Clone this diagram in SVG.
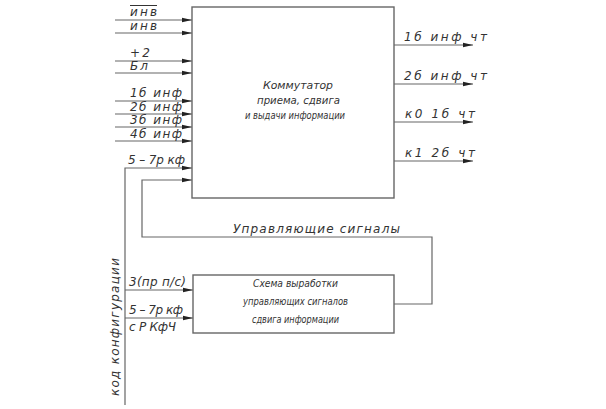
<svg xmlns="http://www.w3.org/2000/svg" width="606" height="409" viewBox="0 0 606 409">
<defs>
<marker id="ah" viewBox="0 0 10 6" refX="10" refY="3" markerWidth="10" markerHeight="6" markerUnits="userSpaceOnUse" orient="auto">
<path d="M0,0.8 L10,3 L0,5.2 Z" fill="#222"/>
</marker>
<style>
.ln{stroke:#666;stroke-width:1.2;fill:none}
.ar{stroke:#666;stroke-width:1.2;fill:none;marker-end:url(#ah)}
.bx{stroke:#666;stroke-width:1.4;fill:#fff}
.t{font-family:"DejaVu Sans",sans-serif;font-style:italic;font-weight:200;font-size:12px;fill:#333}
.s{font-family:"DejaVu Sans",sans-serif;font-style:italic;font-weight:200;font-size:10px;fill:#333}
</style>
</defs>
<rect width="606" height="409" fill="#fff"/>
<g id="connectors">
<line class="ar" x1="115" y1="20" x2="192" y2="20"/>
<line class="ar" x1="115" y1="33" x2="192" y2="33"/>
<line class="ar" x1="115" y1="61" x2="192" y2="61"/>
<line class="ar" x1="115" y1="73" x2="192" y2="73"/>
<line class="ar" x1="115" y1="101" x2="192" y2="101"/>
<line class="ar" x1="115" y1="114" x2="192" y2="114"/>
<line class="ar" x1="115" y1="127" x2="192" y2="127"/>
<line class="ar" x1="115" y1="141" x2="192" y2="141"/>
<polyline class="ar" points="125,405 125,168 192,168"/>
<polyline class="ar" points="394,304 432,304 432,237 142,237 142,180 192,180"/>
<line class="ar" x1="125" y1="290" x2="193" y2="290"/>
<line class="ar" x1="125" y1="318" x2="193" y2="318"/>
<line class="ar" x1="394" y1="45" x2="473" y2="45"/>
<line class="ar" x1="394" y1="84" x2="473" y2="84"/>
<line class="ar" x1="394" y1="122" x2="473" y2="122"/>
<line class="ar" x1="394" y1="161" x2="473" y2="161"/>
</g>
<g id="kommutator">
<rect class="bx" x="192" y="7" width="202" height="191"/>
<text class="s" x="263" y="89" textLength="70" lengthAdjust="spacingAndGlyphs">Коммутатор</text>
<text class="s" x="257" y="104" textLength="83" lengthAdjust="spacingAndGlyphs">приема, сдвига</text>
<text class="s" x="245" y="119" textLength="100" lengthAdjust="spacingAndGlyphs">и выдачи информации</text>
</g>
<g id="skhema">
<rect class="bx" x="193" y="275" width="201" height="58"/>
<text class="s" x="253" y="287" textLength="85" lengthAdjust="spacingAndGlyphs">Схема выработки</text>
<text class="s" x="243" y="305" textLength="105" lengthAdjust="spacingAndGlyphs">управляющих сигналов</text>
<text class="s" x="252" y="323" textLength="87" lengthAdjust="spacingAndGlyphs">сдвига информации</text>
</g>
<g id="labels">
<text class="t" x="130" y="16" textLength="27">инв</text>
<line x1="130" y1="5.5" x2="157" y2="5.5" stroke="#333" stroke-width="1"/>
<text class="t" x="130" y="30" textLength="27">инв</text>
<text class="t" x="130" y="57" textLength="20">+2</text>
<text class="t" x="130" y="70" textLength="18">Бл</text>
<text class="t" x="130" y="97" textLength="52">1б инф</text>
<text class="t" x="130" y="111" textLength="52">2б инф</text>
<text class="t" x="130" y="124" textLength="52">3б инф</text>
<text class="t" x="130" y="138" textLength="52">4б инф</text>
<text class="t" x="128" y="164" textLength="57">5 – 7р кф</text>
<text class="t" x="404" y="41" textLength="83">1б инф чт</text>
<text class="t" x="404" y="80" textLength="83">2б инф чт</text>
<text class="t" x="405" y="118" textLength="70">к0 1б чт</text>
<text class="t" x="405" y="157" textLength="70">к1 2б чт</text>
<text class="t" x="233" y="233" textLength="167">Управляющие сигналы</text>
<text class="t" x="129" y="286" textLength="57">3(пр п/с)</text>
<text class="t" x="129" y="314" textLength="54">5 – 7р кф</text>
<text class="t" x="129" y="331" textLength="47">с Р КфЧ</text>
<text class="t" transform="translate(119,396) rotate(-90)" textLength="138">код конфигурации</text>
</g>
</svg>
